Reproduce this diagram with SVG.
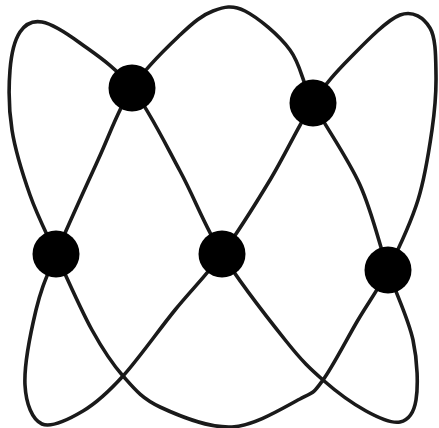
<svg xmlns="http://www.w3.org/2000/svg" width="439" height="428" viewBox="0 0 439 428">
<style>
.curve{fill:none;stroke:#1a1a1a;stroke-width:3.6;stroke-linejoin:round;stroke-linecap:round}
.dot{fill:#000}
</style>
<rect width="439" height="428" fill="#fff"/>
<g id="connectors">
<path class="curve" d="M42,22 C52,23.8 65,32 80,43 S115.3,66.7 132,88 S165,143.3 180,171 S204.3,225.7 222,254 S269.2,320 286,341 S309.7,368.3 323,380 S353.2,404 366,411 S391.7,423.8 400,422 S413.8,413.7 416,400 S417.7,361.7 413,340 S396.8,295.8 388,270 S372.5,212.8 360,185 S324.7,125.5 313,103 S301.3,65.3 290,50 S257.8,17.5 245,11 S223.8,7 213,11 S193.5,22.2 180,35 S145.7,67.2 132,88 S110.7,132.3 98,160 S66.3,229 56,254 S41.2,288.2 36,310 S24,366 25,385 S32.3,419.7 42,424 S69.5,419 83,411 S107.7,392.8 123,376 S158.5,330.3 175,310 S206.2,275.7 222,254 S254.8,205.2 270,180 S299.7,123.3 313,103 S335.5,72.7 350,58 S386.7,20 400,15 S424,18 430,28 S435.7,58 436,75 S435,109.2 432,130 S425.3,176.7 418,200 S398,250 388,270 S368.8,301.7 358,320 S332.7,366.8 323,380 S315.2,391.2 300,399 S255.3,425.7 232,427 S178.2,415.5 160,407 S134.3,388.8 123,376 S103.2,350.3 92,330 S66.3,276.5 56,254 S37.3,215.7 30,195 S15.3,150.8 12,130 S8.7,86.3 10,70 S14.7,40 20,32 S32,20.2 42,22 Z"/>
</g>
<g id="node-top-left"><circle class="dot" cx="132" cy="88" r="23.5"/></g>
<g id="node-top-right"><circle class="dot" cx="313" cy="103" r="23.5"/></g>
<g id="node-mid-left"><circle class="dot" cx="56" cy="254" r="23.5"/></g>
<g id="node-center"><circle class="dot" cx="222" cy="254" r="23.5"/></g>
<g id="node-mid-right"><circle class="dot" cx="388" cy="270" r="23.5"/></g>
</svg>
